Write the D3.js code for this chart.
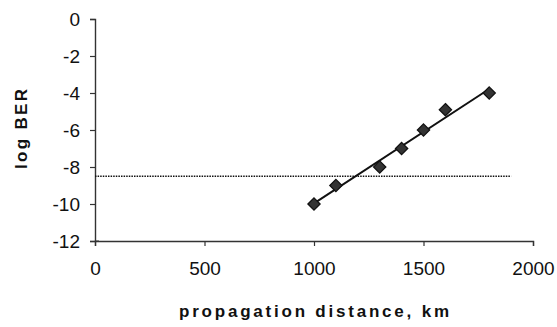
<!DOCTYPE html>
<html>
<head>
<meta charset="utf-8">
<script src="https://cdn.jsdelivr.net/npm/d3@7"></script>
<style>
  html, body { margin: 0; padding: 0; background: #fff; overflow: hidden; }
  svg { display: block; }
  .tick text { font-family: "Liberation Sans", Arial, sans-serif; font-size: 19px; fill: #111; }
  .axis-title { font-family: "Liberation Sans", Arial, sans-serif; font-size: 17px; font-weight: bold; fill: #111; }
</style>
</head>
<body>
<svg id="chart"></svg>
<script>
// measured BER vs. propagation distance
const distances = [1000, 1100, 1300, 1400, 1500, 1600, 1800];
const logBer = [-10, -9, -8, -7, -6, -4.9, -4];

// error-free threshold
const thresholdBer = -8.5;
const thresholdSpan = [0, 1900];

const xTicks = [0, 500, 1000, 1500, 2000];
const yTicks = [0, -2, -4, -6, -8, -10, -12];

const width = 557;
const height = 327;
const margin = { top: 19, right: 24, bottom: 86, left: 95 };
const innerWidth = width - margin.left - margin.right;
const innerHeight = height - margin.top - margin.bottom;

const svg = d3.select("#chart")
    .attr("width", width)
    .attr("height", height);

const g = svg.append("g")
    .attr("transform", `translate(${margin.left},${margin.top})`);

const x = d3.scaleLinear().domain([0, 2000]).range([0, innerWidth]);
const y = d3.scaleLinear().domain([-12, 0]).range([innerHeight, 0]);

// axes
const xAxis = g.append("g")
    .attr("transform", `translate(0,${innerHeight})`)
    .call(d3.axisBottom(x).tickValues(xTicks).tickSize(5).tickPadding(16).tickFormat(d3.format("d")));

const yAxis = g.append("g")
    .call(d3.axisLeft(y).tickValues(yTicks).tickSize(5).tickPadding(10).tickFormat(d => d));

[xAxis, yAxis].forEach(a => {
  a.attr("font-size", 19).attr("font-family", "Liberation Sans, Arial, sans-serif");
  a.select(".domain").attr("stroke", "#333").attr("stroke-width", 1.4);
  a.selectAll(".tick line").attr("stroke", "#333").attr("stroke-width", 1.2);
});

// small cross tick where the axes meet
g.append("line")
    .attr("x1", x(0)).attr("x2", x(0) + 4)
    .attr("y1", y(-12)).attr("y2", y(-12))
    .attr("stroke", "#333");

// threshold line
g.append("line")
    .attr("x1", x(thresholdSpan[0])).attr("x2", x(thresholdSpan[1]))
    .attr("y1", y(thresholdBer)).attr("y2", y(thresholdBer))
    .attr("stroke", "#111")
    .attr("stroke-width", 1.6)
    .attr("stroke-dasharray", "1.5,1.1");

// least-squares trend line through the measurements
const mx = d3.mean(distances);
const my = d3.mean(logBer);
let sxy = 0, sxx = 0;
distances.forEach((d, i) => {
  sxy += (d - mx) * (logBer[i] - my);
  sxx += (d - mx) * (d - mx);
});
const slope = sxy / sxx;
const fit = d => my + slope * (d - mx);
const xExt = d3.extent(distances);

g.append("line")
    .attr("x1", x(xExt[0])).attr("y1", y(fit(xExt[0])))
    .attr("x2", x(xExt[1])).attr("y2", y(fit(xExt[1])))
    .attr("stroke", "#111")
    .attr("stroke-width", 2);

// diamond markers
const diamond = d3.symbol().type(d3.symbolDiamond2).size(95);
g.selectAll(".pt")
    .data(distances.map((d, i) => ({ d, v: logBer[i] })))
    .enter().append("path")
    .attr("class", "pt")
    .attr("d", diamond)
    .attr("transform", p => `translate(${x(p.d)},${y(p.v)})`)
    .attr("fill", "#333")
    .attr("stroke", "#111")
    .attr("stroke-width", 1.3);

// axis titles, stretched out the way the old print spaced them
svg.append("text")
    .attr("class", "axis-title")
    .attr("text-anchor", "middle")
    .attr("transform", `translate(27,129) rotate(-90)`)
    .attr("textLength", 80)
    .attr("lengthAdjust", "spacing")
    .text("log BER");

svg.append("text")
    .attr("class", "axis-title")
    .attr("text-anchor", "middle")
    .attr("x", 314)
    .attr("y", 317)
    .attr("textLength", 270)
    .attr("lengthAdjust", "spacing")
    .text("propagation distance, km");
</script>
</body>
</html>
